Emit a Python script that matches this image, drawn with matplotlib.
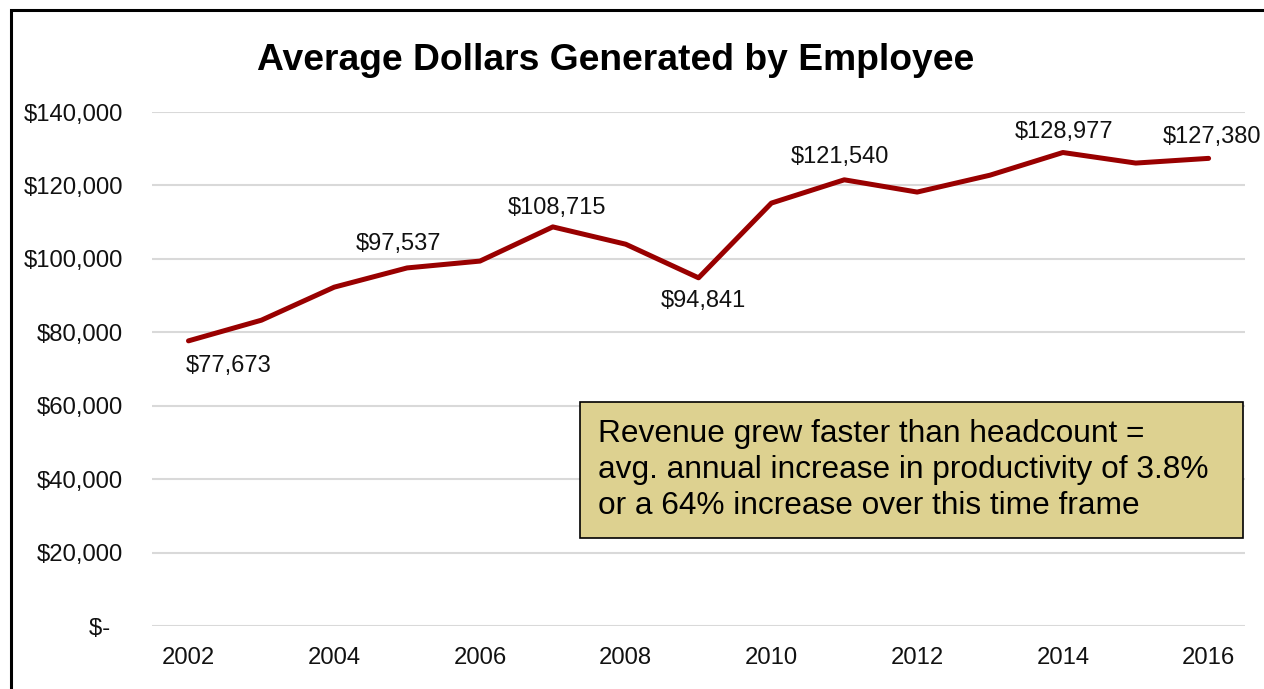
import matplotlib.pyplot as plt
from matplotlib.patches import Rectangle
from matplotlib.ticker import FuncFormatter

plt.rcParams['font.family'] = ['Liberation Sans', 'DejaVu Sans']

years = [2002, 2003, 2004, 2005, 2006, 2007, 2008, 2009,
         2010, 2011, 2012, 2013, 2014, 2015, 2016]
dollars = [77673, 83300, 92300, 97537, 99400, 108715, 104000, 94841,
           115200, 121540, 118200, 122800, 128977, 126100, 127380]

# which points get a data label, and where the label sits (pixels)
label_years = [2002, 2005, 2007, 2009, 2011, 2014, 2016]
label_offsets = [(40, -25), (-9, 24), (4, 19), (5, -23), (-4, 23), (1, 21), (3, 21)]

title = "Average Dollars Generated by Employee"
note = ("Revenue grew faster than headcount =\n"
        "avg. annual increase in productivity of 3.8%\n"
        "or a 64% increase over this time frame")

fig = plt.figure(figsize=(12.64, 6.89), dpi=100)
ax = fig.add_axes([0.1203, 0.0914, 0.8647, 0.746])

ax.plot(years, dollars, color='#990000', linewidth=3.6, solid_capstyle='round',
        solid_joinstyle='round', zorder=3)

for yr, (dx, dy) in zip(label_years, label_offsets):
    v = dollars[years.index(yr)]
    ax.annotate(f"${v:,}", (yr, v), xytext=(dx, dy), textcoords='offset pixels',
                ha='center', va='center', fontsize=17, color='#111111',
                annotation_clip=False)

ax.set_xlim(2001.5, 2016.5)
ax.set_ylim(0, 140000)
ax.set_yticks(range(0, 140001, 20000))
ax.set_xticks(years[::2])
ax.yaxis.set_major_formatter(FuncFormatter(lambda v, p: "$-  " if v == 0 else f"${v:,.0f}"))
ax.tick_params(axis='both', length=0, labelsize=17.2, colors='#111111')
ax.tick_params(axis='y', pad=21)
ax.tick_params(axis='x', pad=15)
ax.grid(axis='y', color='#D9D9D9', linewidth=1.5)
ax.set_axisbelow(True)
for s in ax.spines.values():
    s.set_visible(False)

fig.text(0.4873, 0.912, title, ha='center', va='center', fontsize=26.8, fontweight='bold')

ax.add_patch(Rectangle((0.3916, 0.1712), 0.6064, 0.2646, transform=ax.transAxes,
                       facecolor='#DDD190', edgecolor='black', linewidth=1.2, zorder=4))
ax.text(0.408, 0.3035, note, transform=ax.transAxes, fontsize=22.8, va='center',
        ha='left', linespacing=1.27, zorder=5)

fig.patches.append(Rectangle((0.0087, -0.1), 1.2, 0.9855 + 0.1, transform=fig.transFigure,
                             fill=False, edgecolor='black', linewidth=2.2))

plt.savefig('out.png', dpi=100)
